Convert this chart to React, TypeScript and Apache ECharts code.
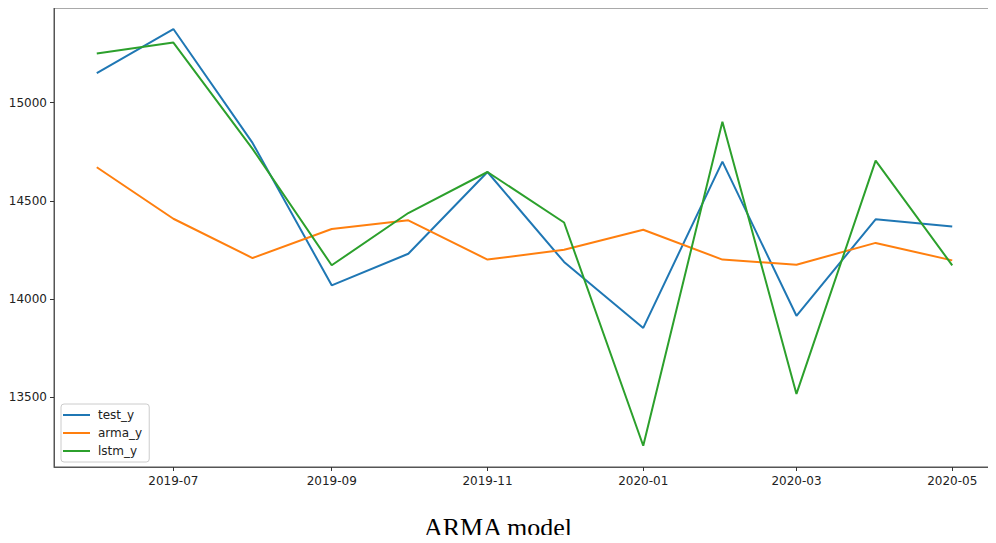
import React, { useEffect, useRef } from "react";
import * as echarts from "echarts";

// Monthly observations
const months = [
  "2019-06", "2019-07", "2019-08", "2019-09", "2019-10", "2019-11",
  "2019-12", "2020-01", "2020-02", "2020-03", "2020-04", "2020-05",
];
const testY = [15151, 15375, 14795, 14070, 14231, 14647, 14189, 13853, 14700, 13915, 14406, 14370];
const armaY = [14671, 14409, 14209, 14357, 14401, 14201, 14251, 14353, 14201, 14175, 14286, 14197];
const lstmY = [15250, 15306, 14765, 14172, 14438, 14647, 14390, 13253, 14903, 13517, 14705, 14172];

const xTickMonths = ["2019-07", "2019-09", "2019-11", "2020-01", "2020-03", "2020-05"];
const yTicks = [13500, 14000, 14500, 15000];

const toUtc = (m: string) => {
  const [y, mo] = m.split("-").map(Number);
  return Date.UTC(y, mo - 1, 1);
};
const fmt = (v: number) => {
  const d = new Date(v);
  return `${d.getUTCFullYear()}-${String(d.getUTCMonth() + 1).padStart(2, "0")}`;
};

export default function App() {
  const ref = useRef<HTMLDivElement>(null);

  useEffect(() => {
    if (!ref.current) return;
    const chart = echarts.init(ref.current, null, { renderer: "svg" });
    const xs = months.map(toUtc);
    const span = xs[xs.length - 1] - xs[0];
    const pad = span * 0.05;
    const mk = (vals: number[]) => vals.map((v, i) => [xs[i], v]);
    const axisFont = { fontFamily: "DejaVu Sans", fontSize: 12, color: "#222" };

    chart.setOption({
      animation: false,
      backgroundColor: "#fff",
      title: {
        text: "ARMA model",
        left: "center",
        top: 509,
        textStyle: {
          fontFamily: "Liberation Serif, Times New Roman, serif",
          fontSize: 26,
          fontWeight: "normal",
          color: "#000",
        },
      },
      grid: {
        left: 54,
        right: 1,
        top: 8,
        bottom: 76,
        show: true,
        borderColor: "#555",
        borderWidth: 1,
      },
      legend: {
        orient: "vertical",
        left: 61,
        top: 404,
        padding: [4, 7, 4, 2],
        itemGap: 4,
        itemWidth: 27,
        itemHeight: 2,
        backgroundColor: "#fff",
        borderColor: "#ccc",
        borderWidth: 1,
        borderRadius: 3,
        textStyle: { ...axisFont, lineHeight: 14, padding: [0, 0, 0, 3] },
        data: [
          { name: "test_y", icon: "rect" },
          { name: "arma_y", icon: "rect" },
          { name: "lstm_y", icon: "rect" },
        ],
      },
      xAxis: {
        type: "value",
        min: xs[0] - pad,
        max: xs[xs.length - 1] + pad,
        splitLine: { show: false },
        axisLine: { show: true, lineStyle: { color: "#555" } },
        axisTick: {
          show: true,
          length: 4,
          customValues: xTickMonths.map(toUtc),
          lineStyle: { color: "#333" },
        },
        axisLabel: {
          ...axisFont,
          margin: 8,
          customValues: xTickMonths.map(toUtc),
          formatter: (v: number) => fmt(v),
        },
      },
      yAxis: {
        type: "value",
        min: 13145,
        max: 15482,
        splitLine: { show: false },
        axisLine: { show: true, lineStyle: { color: "#555" } },
        axisTick: {
          show: true,
          length: 4,
          customValues: yTicks,
          lineStyle: { color: "#333" },
        },
        axisLabel: {
          ...axisFont,
          margin: 7,
          customValues: yTicks,
          formatter: (v: number) => String(v),
        },
      },
      series: [
        { name: "test_y", type: "line", data: mk(testY), color: "#1f77b4" },
        { name: "arma_y", type: "line", data: mk(armaY), color: "#ff7f0e" },
        { name: "lstm_y", type: "line", data: mk(lstmY), color: "#2ca02c" },
      ].map((s) => ({
        ...s,
        showSymbol: false,
        symbol: "none",
        lineStyle: { width: 2, color: s.color },
        itemStyle: { color: s.color },
      })),
    });
    return () => chart.dispose();
  }, []);

  return <div ref={ref} style={{ width: 996, height: 543, margin: -8 }} />;
}
